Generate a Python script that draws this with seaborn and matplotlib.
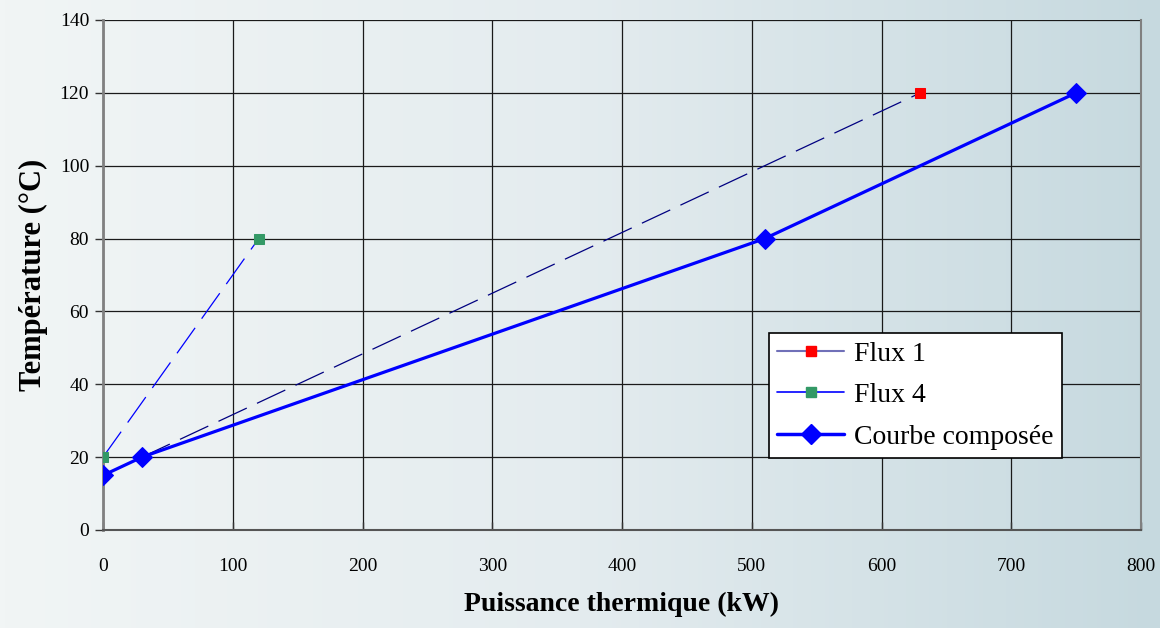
import numpy as np
import pandas as pd
import matplotlib
matplotlib.use("Agg")
import matplotlib.pyplot as plt
import seaborn as sns
from matplotlib.lines import Line2D
from matplotlib.colors import LinearSegmentedColormap

flux1_x = [0, 630]
flux1_y = [15, 120]
flux4_x = [0, 120]
flux4_y = [20, 80]
comp_x = [0, 30, 510, 750]
comp_y = [15, 20, 80, 120]
x_ticks = [0, 100, 200, 300, 400, 500, 600, 700, 800]
y_ticks = [0, 20, 40, 60, 80, 100, 120, 140]

sns.set_theme(style="white")
plt.rcParams['font.family'] = ['Liberation Serif', 'DejaVu Serif']
plt.rcParams['text.color'] = 'black'
plt.rcParams['axes.labelcolor'] = 'black'
plt.rcParams['xtick.color'] = 'black'
plt.rcParams['ytick.color'] = 'black'

fig = plt.figure(figsize=(11.6, 6.28), dpi=100)

# gradient background
bg = fig.add_axes([0, 0, 1, 1], zorder=-10)
grad = np.linspace(0, 1, 256).reshape(1, -1)
cmap = LinearSegmentedColormap.from_list("bg", ["#f1f5f5", "#e4ecef", "#c6d9df"])
bg.imshow(grad, aspect='auto', cmap=cmap, extent=[0, 1, 0, 1])
bg.axis('off')

ax = fig.add_axes([103/1160, 1-530/628, (1141-103)/1160, (530-20)/628])
ax.set_facecolor('none')

df1 = pd.DataFrame({'x': flux1_x, 'y': flux1_y})
df4 = pd.DataFrame({'x': flux4_x, 'y': flux4_y})
dfc = pd.DataFrame({'x': comp_x, 'y': comp_y})

sns.lineplot(data=df1, x='x', y='y', ax=ax, color='#000080', lw=0.9,
             linestyle=(0, (25, 9)), marker='s', markersize=6.5,
             markerfacecolor='#ff0000', markeredgecolor='#ff0000', zorder=3)
sns.lineplot(data=df4, x='x', y='y', ax=ax, color='#0000ff', lw=0.9,
             linestyle=(0, (25, 9)), marker='s', markersize=6.5,
             markerfacecolor='#339966', markeredgecolor='#339966', zorder=3)
sns.lineplot(data=dfc, x='x', y='y', ax=ax, color='#0000ff', lw=2.3,
             marker='D', markersize=10, markerfacecolor='#0000ff',
             markeredgecolor='#0000ff', zorder=4)

ax.set_xlim(0, 800)
ax.set_ylim(0, 140)
ax.set_xticks(x_ticks)
ax.set_yticks(y_ticks)
ax.set_xticklabels([str(v) for v in x_ticks])
ax.set_yticklabels([str(v) for v in y_ticks])
ax.grid(True, color='#1a1a1a', lw=0.9)
ax.set_axisbelow(True)
ax.spines['top'].set_visible(False)
ax.spines['left'].set_color('#808080')
ax.spines['left'].set_linewidth(2)
ax.spines['bottom'].set_color('#555555')
ax.spines['bottom'].set_linewidth(1.5)
ax.spines['right'].set_visible(True)
ax.spines['right'].set_color('#808080')
ax.spines['right'].set_linewidth(1.5)

ax.tick_params(axis='y', direction='out', length=6, width=1, color='#333333',
               labelsize=14, pad=4, left=True)
ax.tick_params(axis='x', direction='in', length=6, width=1, color='#333333',
               labelsize=14, pad=20, bottom=True)

ax.set_xlabel('Puissance thermique (kW)', fontsize=20, fontweight='bold', labelpad=12)
ax.set_ylabel('Température (°C)', fontsize=22, fontweight='bold')
ax.yaxis.set_label_coords((48 - 103) / 1038, 0.5)

handles = [
    Line2D([0], [0], color='#7070b8', lw=1.5, marker='s', markersize=7,
           markerfacecolor='#ff0000', markeredgecolor='#ff0000'),
    Line2D([0], [0], color='#0000ff', lw=1.2, marker='s', markersize=7,
           markerfacecolor='#339966', markeredgecolor='#339966'),
    Line2D([0], [0], color='#0000ff', lw=2.5, marker='D', markersize=10,
           markerfacecolor='#0000ff', markeredgecolor='#0000ff'),
]
leg = ax.legend(handles, ['Flux 1', 'Flux 4', 'Courbe composée'],
                loc='lower left', bbox_to_anchor=(0.6416, 0.141),
                fontsize=20, frameon=True, fancybox=False, framealpha=1,
                edgecolor='black', handlelength=2.4, borderpad=0.3,
                labelspacing=0.58, handletextpad=0.35, borderaxespad=0)
leg.get_frame().set_linewidth(1.2)

fig.savefig('out.png', dpi=100)
